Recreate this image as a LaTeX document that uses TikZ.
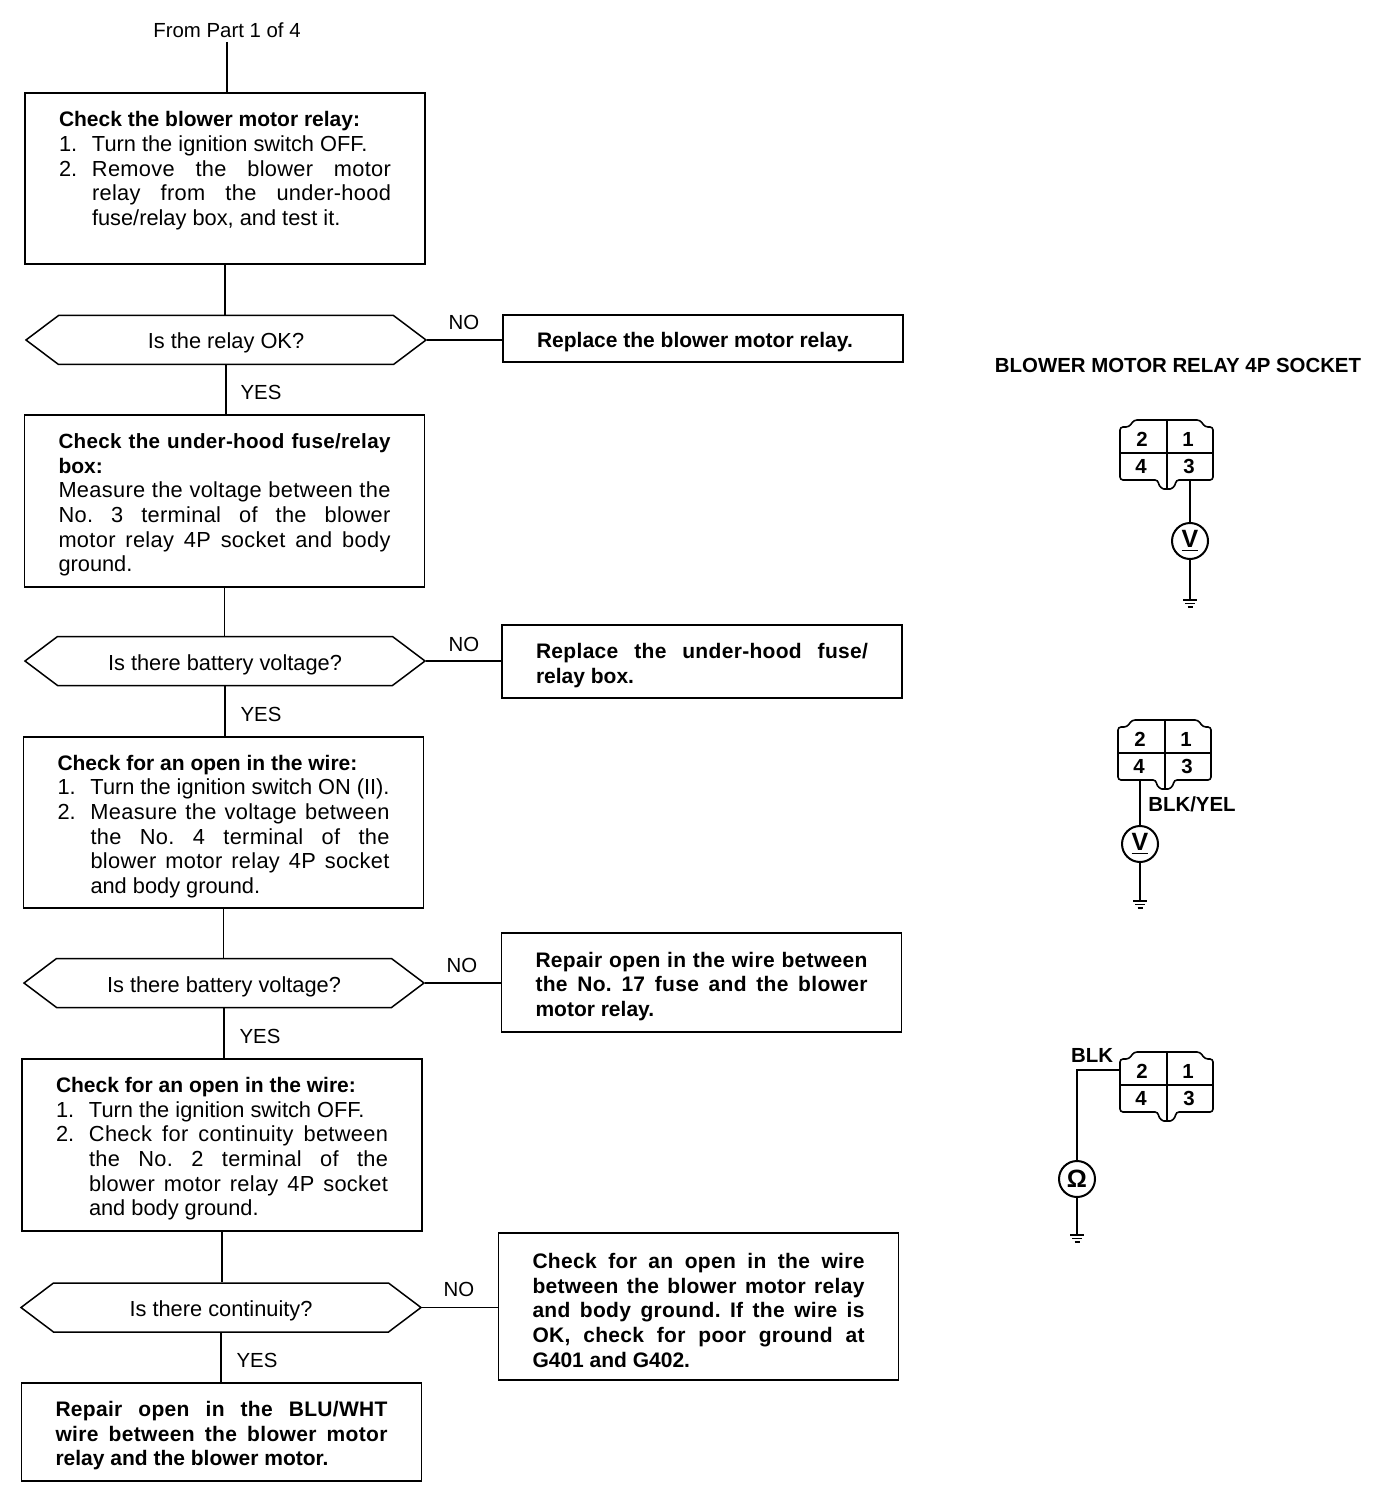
\documentclass[tikz,border=0pt]{standalone}
\usepackage{fontspec}
\setmainfont{Liberation Sans}
\usetikzlibrary{shapes.symbols}
\newlength{\boxw}
\setlength{\boxw}{166pt}
\newlength{\numw}
\setlength{\numw}{16.5pt}
\newlength{\contw}
\setlength{\contw}{\dimexpr\boxw-\numw\relax}
% stretched lines, the way the printed boxes are set
\newcommand{\wide}{\addfontfeature{LetterSpace=1.5}\spaceskip=.28em plus 1fil\xspaceskip=\spaceskip}
\newcommand{\fullline}[1]{\leavevmode\hbox to\boxw{\wide #1}}
\newcommand{\numline}[2]{\leavevmode\hbox to\numw{#1\hfil}\hbox to\contw{\wide #2}}
\newcommand{\contline}[1]{\leavevmode\hspace*{\numw}\hbox to\contw{\wide #1}}
\newcommand{\plainnum}[2]{\leavevmode\hbox to\numw{#1\hfil}#2}
\newcommand{\plaincont}[1]{\leavevmode\hspace*{\numw}#1}
\newcommand{\headfont}{\fontsize{10.5}{12.3}\selectfont\bfseries}
\tikzset{
  wire/.style={line width=0.75pt},
  probe/.style={line width=0.9pt},
  flowbox/.style={draw,line width=0.75pt,text width=\boxw,align=left,inner xsep=17pt,inner ysep=0pt,
    minimum width=200pt,font=\fontsize{10.9}{12.3}\selectfont,
    execute at begin node={\spaceskip=0pt\xspaceskip=0pt\rule{0pt}{11.5pt}}},
  fixbox/.style={flowbox,font=\fontsize{10.5}{12.3}\selectfont\bfseries},
  decision/.style={draw,line width=0.75pt,shape=signal,signal to=east and west,signal pointer angle=74,
    minimum width=200pt,minimum height=24.5pt,inner xsep=0pt,inner ysep=0pt,text height=11pt,text depth=2pt,
    font=\fontsize{10.9}{12.3}\selectfont},
  lab/.style={font=\fontsize{10.2}{12.3}\selectfont,inner sep=0pt},
  blab/.style={font=\fontsize{10.2}{12.3}\selectfont\bfseries,inner sep=0pt},
  meter/.style={draw,circle,line width=1pt,minimum size=18pt,inner sep=0pt,
    font=\fontsize{12.5}{12.5}\selectfont\bfseries},
  relaysocket/.pic={
    \draw[line width=0.8pt,rounded corners=1.5pt] (-47,0) -- (-47,-26) -- (-38,-26) -- (-33,-33) -- (33,-33)
      -- (38,-26) -- (46,-26) -- (46,27) -- (9,27) .. controls (8,34) and (4,36) .. (0,36)
      .. controls (-4,36) and (-8,34) .. (-9,27) -- (-47,27) -- cycle;
    \draw[line width=0.8pt] (-47,0) -- (46,0);
    \draw[line width=0.6pt] (0,-33) -- (0,36);
    \node[blab] (pinTwo) at (-25,-14) {2};
    \node[blab] (pinOne) at (21,-14) {1};
    \node[blab] (pinFour) at (-26,13) {4};
    \node[blab] (pinThree) at (22,13) {3};
    \coordinate (wireTwo) at (-47,-15);
    \coordinate (wireThree) at (22,27);
    \coordinate (wireFour) at (-25,27);
  },
  groundsym/.pic={
    \draw[line width=0.7pt] (-7,0) -- (7,0);
    \draw[line width=0.7pt] (-5,3.5) -- (5,3.5);
    \draw[line width=0.7pt] (-2.5,7) -- (2.5,7);
  },
}
\begin{document}
\begin{tikzpicture}[x=0.5pt,y=-0.5pt]
  \useasboundingbox (0,0) rectangle (1392,1502);
  \node[lab] (fromPart) at (227,30) {From Part 1 of 4};

  % left column
  \node[flowbox,minimum height=85.5pt] (checkRelay) at (225,178.5) {%
    {\headfont Check the blower motor relay:}\\
    \plainnum{1.}{Turn the ignition switch OFF.}\\
    \numline{2.}{Remove the blower motor}\\
    \contline{relay from the under-hood}\\
    \plaincont{fuse/relay box, and test it.}\\[1.5pt]
    \mbox{}};
  \node[decision] (relayOk) at (226,340) {Is the relay OK?};
  \node[flowbox,minimum height=86pt] (checkFuse) at (224.5,501) {%
    {\fontsize{10.3}{12.3}\selectfont\bfseries\fullline{Check the under-hood fuse/relay}}\\
    {\headfont box:}\\
    \fullline{Measure the voltage between the}\\
    \fullline{No. 3 terminal of the blower}\\
    \fullline{motor relay 4P socket and body}\\
    ground.};
  \node[decision] (voltOne) at (225,661) {Is there battery voltage?};
  \node[flowbox,minimum height=85.5pt] (checkOpenA) at (223.5,822.5) {%
    {\headfont Check for an open in the wire:}\\
    \plainnum{1.}{Turn the ignition switch ON (II).}\\
    \numline{2.}{Measure the voltage between}\\
    \contline{the No. 4 terminal of the}\\
    \contline{blower motor relay 4P socket}\\
    \plaincont{and body ground.}};
  \node[decision] (voltTwo) at (224,983) {Is there battery voltage?};
  \node[flowbox,minimum height=86pt] (checkOpenB) at (222,1145) {%
    {\headfont Check for an open in the wire:}\\
    \plainnum{1.}{Turn the ignition switch OFF.}\\
    \numline{2.}{Check for continuity between}\\
    \contline{the No. 2 terminal of the}\\
    \contline{blower motor relay 4P socket}\\
    \plaincont{and body ground.}};
  \node[decision] (contOk) at (221,1307.5) {Is there continuity?};
  \node[fixbox,minimum height=49pt] (fixWire) at (221.5,1432) {%
    \fullline{Repair open in the BLU/WHT}\\
    \fullline{wire between the blower motor}\\
    relay and the blower motor.};

  % right column
  \node[fixbox,minimum height=23.5pt] (fixRelay) at (703,338.5) {Replace the blower motor relay.};
  \node[fixbox,minimum height=36.5pt] (fixFuse) at (702,661.5) {%
    \fullline{Replace the under-hood fuse/}\\
    relay box.};
  \node[fixbox,minimum height=49.5pt] (fixOpen) at (701.5,982.5) {%
    \fullline{Repair open in the wire between}\\
    \fullline{the No. 17 fuse and the blower}\\
    motor relay.};
  \node[fixbox,minimum height=73.5pt] (fixGround) at (698.5,1306.5) {%
    \fullline{Check for an open in the wire}\\
    \fullline{between the blower motor relay}\\
    \fullline{and body ground. If the wire is}\\
    \fullline{OK, check for poor ground at}\\
    G401 and G402.};

  \draw[wire,shorten <=2pt] (fromPart.south) -- (fromPart.south |- checkRelay.north);
  \foreach \upper/\lower in {checkRelay/relayOk,relayOk/checkFuse,checkFuse/voltOne,voltOne/checkOpenA,
    checkOpenA/voltTwo,voltTwo/checkOpenB,checkOpenB/contOk,contOk/fixWire}
    \draw[wire] (\upper.south) -- (\upper.south |- \lower.north);
  \foreach \test/\fix in {relayOk/fixRelay,voltOne/fixFuse,voltTwo/fixOpen,contOk/fixGround}
    \draw[wire] (\test.east) -- (\test.east -| \fix.west);

  \node[lab] (yesA) at (261,392) {YES};
  \node[lab] (noA) at (464,322) {NO};
  \node[lab] (yesB) at (261,714) {YES};
  \node[lab] (noB) at (464,644) {NO};
  \node[lab] (yesC) at (260,1036) {YES};
  \node[lab] (noC) at (462,965) {NO};
  \node[lab] (yesD) at (257,1360) {YES};
  \node[lab] (noD) at (459,1289) {NO};

  % sockets
  \node[blab] (socketTitle) at (1178,365) {BLOWER MOTOR RELAY 4P SOCKET};

  \pic (sockA) at (1167,453) {relaysocket};
  \node[meter] (meterA) at (1190,541) {\underline{V}};
  \coordinate (gndA) at (1190,600);
  \pic at (gndA) {groundsym};
  \draw[probe] (sockAwireThree -| meterA) -- (meterA);
  \draw[probe] (meterA) -- (gndA);

  \pic (sockB) at (1165,753) {relaysocket};
  \node[blab] (wireYel) at (1192,804) {BLK/YEL};
  \node[meter] (meterB) at (1140,844) {\underline{V}};
  \coordinate (gndB) at (1140,901);
  \pic at (gndB) {groundsym};
  \draw[probe] (sockBwireFour -| meterB) -- (meterB);
  \draw[probe] (meterB) -- (gndB);

  \pic (sockC) at (1167,1085) {relaysocket};
  \node[blab] (wireBlk) at (1092,1055) {BLK};
  \node[meter] (meterC) at (1077,1179) {Ω};
  \coordinate (gndC) at (1077,1235);
  \pic at (gndC) {groundsym};
  \draw[probe] (sockCwireTwo) -| (meterC);
  \draw[probe] (meterC) -- (gndC);
\end{tikzpicture}
\end{document}
